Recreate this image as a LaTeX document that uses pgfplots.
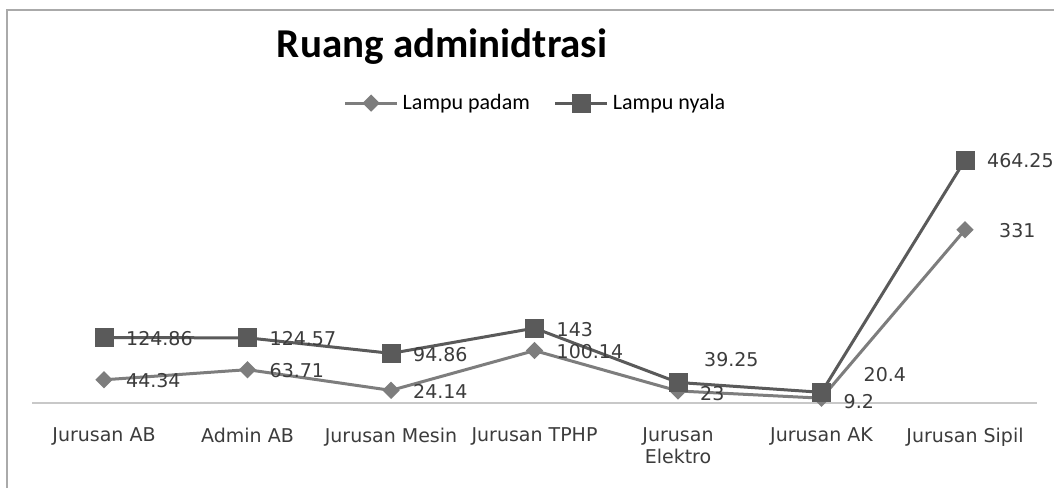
\documentclass[border=0pt]{standalone}
\usepackage{pgfplots}
\usepackage{pgfplotstable}
\usepackage{fontspec}
\pgfplotsset{compat=1.18}
\setmainfont{DejaVu Sans}
\newfontfamily\calibri{Carlito}

\definecolor{padamc}{RGB}{125,125,125}
\definecolor{nyalac}{RGB}{90,90,90}
\definecolor{txt}{RGB}{60,60,60}

% x  y  label shift (pt)
\pgfplotstableread{
x y dx dy
0 44.34 0 0
1 63.71 0 0
2 24.14 0 0
3 100.14 0 0
4 23 0 -1
5 9.2 0 -1
6 331 6 0
}\padam
\pgfplotstableread{
x y dx dy
0 124.86 0 0
1 124.57 0 0
2 94.86 0 0
3 143 0 0
4 39.25 2 12
5 20.4 10 9.5
6 464.25 0 0
}\nyala

\begin{document}
\begin{tikzpicture}
\useasboundingbox (0,0) rectangle (527pt,244pt);
\fill[white] (0,0) rectangle (527pt,244pt);
\draw[line width=1pt, color={rgb,255:red,170;green,170;blue,170}] (3.5pt,0) -- (3.5pt,239pt) -- (527pt,239pt);
\begin{axis}[
    scale only axis,
    width=502.25pt, height=130.85pt,
    at={(16.125pt,42.5pt)}, anchor=south west,
    xmin=-0.5, xmax=6.5, ymin=0, ymax=500,
    hide y axis,
    axis x line*=bottom,
    x axis line style={-, draw={rgb,255:red,200;green,200;blue,200}, line width=1pt},
    xtick=data,
    xticklabels={Jurusan AB, Admin AB, Jurusan Mesin, Jurusan TPHP, {Jurusan\\Elektro}, Jurusan AK, Jurusan Sipil},
    xticklabel style={align=center, font=\fontsize{9.5}{11}\selectfont, text=txt, yshift=-9pt},
    major tick length=0pt,
    clip=false,
    title={\calibri\bfseries Ruang adminidtrasi},
    title style={at={(0.408,1.315)}, anchor=center, font=\fontsize{20.5}{22}\selectfont},
    legend columns=2,
    legend style={at={(0.502,1.146)}, anchor=center, draw=none, fill=none,
        font=\calibri\fontsize{11}{13}\selectfont,
        /tikz/every even column/.append style={column sep=10pt}},
    legend image code/.code={\draw[mark repeat=2, mark phase=2]
        plot coordinates {(0pt,0pt) (13pt,0pt) (26pt,0pt)};},
    nodes near coords={\pgfmathprintnumber[assume math mode=true]{\pgfplotspointmeta}},
    visualization depends on={\thisrow{dx} \as \dx},
    visualization depends on={\thisrow{dy} \as \dy},
    nodes near coords style={anchor=west, font=\fontsize{9.5}{11}\selectfont, text=txt,
        xshift={(\dx+7)*1pt}, yshift={(\dy-0.5)*1pt}},
]
\addplot[padamc, line width=1.5pt, mark=square*, mark size=2.3pt,
    mark options={rotate=45, solid, fill=padamc}] table[x=x, y=y] {\padam};
\addplot[nyalac, line width=1.5pt, mark=square*, mark size=4pt,
    mark options={solid, fill=nyalac}] table[x=x, y=y] {\nyala};
\legend{Lampu padam, Lampu nyala}
\end{axis}
\end{tikzpicture}
\end{document}
